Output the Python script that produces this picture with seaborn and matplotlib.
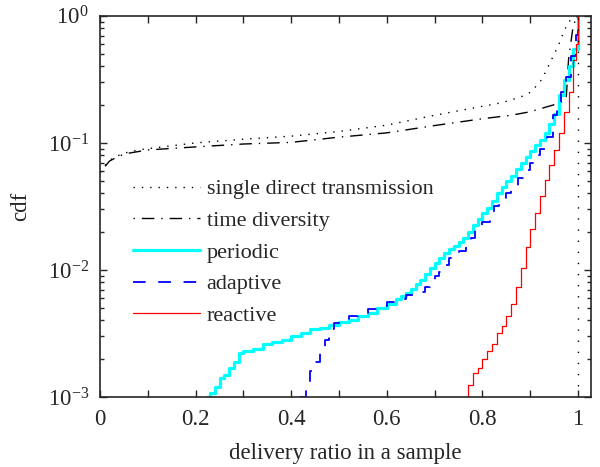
import numpy as np
import pandas as pd
import seaborn as sns
import matplotlib.pyplot as plt
from matplotlib.ticker import MultipleLocator, LogLocator, NullFormatter

# curves (x = delivery ratio, y = cdf)
sd_x = [0.0, 0.01, 0.02, 0.04, 0.06, 0.09, 0.13, 0.2, 0.3, 0.4, 0.5, 0.6, 0.7, 0.78, 0.84, 0.88,
        0.9, 0.92, 0.93, 0.95, 0.96, 0.97, 0.98, 0.99, 1.0]
sd_y = [0.059, 0.066, 0.073, 0.08, 0.085, 0.089, 0.093, 0.1, 0.107, 0.113, 0.123, 0.138, 0.165, 0.188,
        0.207, 0.23, 0.25, 0.3, 0.35, 0.5, 0.6, 0.75, 0.9, 0.95, 1.0]

td_x = [0.0, 0.01, 0.02, 0.04, 0.06, 0.1, 0.2, 0.3, 0.4, 0.5, 0.6, 0.7, 0.8, 0.86, 0.9, 0.93,
        0.96, 0.975, 0.98, 0.99, 1.0]
td_y = [0.058, 0.065, 0.072, 0.079, 0.083, 0.088, 0.093, 0.098, 0.101, 0.111, 0.12, 0.137, 0.155,
        0.165, 0.176, 0.19, 0.205, 0.22, 0.45, 0.85, 1.0]

pe_x = [0.224, 0.23, 0.24, 0.25, 0.26, 0.27, 0.28, 0.29, 0.30, 0.32, 0.34, 0.36, 0.38, 0.40, 0.42,
        0.44, 0.46, 0.48, 0.50, 0.52, 0.54, 0.56, 0.58, 0.60, 0.62, 0.63, 0.64, 0.65, 0.66, 0.67,
        0.68, 0.69, 0.70, 0.71, 0.72, 0.73, 0.74, 0.75, 0.76, 0.77, 0.78, 0.79, 0.80, 0.81, 0.82,
        0.83, 0.84, 0.85, 0.86, 0.87, 0.88, 0.89, 0.90, 0.91, 0.92, 0.93, 0.94, 0.95, 0.96, 0.97,
        0.98, 0.99, 1.0]
pe_y = [0.001, 0.00108, 0.0012, 0.0014, 0.0015, 0.0017, 0.0019, 0.0022, 0.0023, 0.0024, 0.0026,
        0.0027, 0.0028, 0.003, 0.0032, 0.0034, 0.0035, 0.0037, 0.0039, 0.004, 0.0043, 0.0046, 0.005,
        0.0054, 0.0059, 0.0062, 0.0066, 0.0071, 0.0077, 0.0083, 0.0093, 0.0104, 0.0114, 0.0125,
        0.0135, 0.0145, 0.0155, 0.0165, 0.018, 0.02, 0.0225, 0.025, 0.028, 0.031, 0.035, 0.04,
        0.045, 0.05, 0.055, 0.062, 0.07, 0.078, 0.087, 0.096, 0.106, 0.12, 0.14, 0.17, 0.24, 0.31,
        0.4, 0.55, 1.0]

ad_x = [0.418, 0.43, 0.44, 0.45, 0.46, 0.47, 0.48, 0.49, 0.50, 0.52, 0.54, 0.56, 0.58, 0.60, 0.62,
        0.64, 0.66, 0.68, 0.69, 0.70, 0.71, 0.72, 0.73, 0.74, 0.75, 0.765, 0.775, 0.785, 0.80,
        0.815, 0.825, 0.835, 0.85, 0.86, 0.875, 0.885, 0.90, 0.91, 0.92, 0.935, 0.948, 0.955,
        0.965, 0.975, 0.985, 0.995, 1.0]
ad_y = [0.001, 0.0012, 0.0016, 0.0019, 0.0022, 0.0028, 0.0034, 0.0038, 0.004, 0.0043, 0.0046,
        0.0049, 0.0052, 0.0056, 0.0059, 0.0063, 0.0067, 0.0074, 0.0082, 0.0089, 0.0096, 0.011,
        0.0124, 0.013, 0.014, 0.0152, 0.018, 0.021, 0.024, 0.027, 0.032, 0.036, 0.04, 0.045, 0.053,
        0.061, 0.07, 0.08, 0.09, 0.111, 0.166, 0.2, 0.25, 0.33, 0.48, 0.71, 1.0]

re_x = [0.76, 0.77, 0.78, 0.79, 0.80, 0.81, 0.82, 0.83, 0.84, 0.85, 0.86, 0.87, 0.88, 0.89, 0.90,
        0.91, 0.92, 0.93, 0.94, 0.95, 0.96, 0.97, 0.98, 0.99, 0.995, 1.0]
re_y = [0.001, 0.00124, 0.00155, 0.0017, 0.002, 0.0023, 0.0026, 0.0032, 0.0036, 0.0043, 0.0054,
        0.0074, 0.0104, 0.0152, 0.021, 0.028, 0.038, 0.051, 0.067, 0.088, 0.12, 0.175, 0.25, 0.45,
        0.6, 1.0]

labels = ['single direct transmission', 'time diversity', 'periodic', 'adaptive', 'reactive']

sns.set_style('ticks')
plt.rcParams['font.family'] = ['Liberation Serif', 'DejaVu Serif']
plt.rcParams['mathtext.fontset'] = 'stix'

fig = plt.figure(figsize=(6, 4.67), dpi=100)
ax = fig.add_axes([0.1667, 0.15, 0.8183, 0.816])

series = [
    (sd_x, sd_y, labels[0], 'default', dict(color='black', lw=1.0, dashes=(1, 5))),
    (td_x, td_y, labels[1], 'default', dict(color='black', lw=1.0, dashes=(1, 5, 9, 5))),
    (pe_x, pe_y, labels[2], 'steps-post', dict(color='#00ffff', lw=2.3)),
    (ad_x, ad_y, labels[3], 'steps-post', dict(color='#0000ff', lw=1.3, dashes=(7, 7))),
    (re_x, re_y, labels[4], 'steps-post', dict(color='#ff0000', lw=0.9)),
]
for xs, ys, name, ds, kw in series:
    df = pd.DataFrame({'x': xs, 'y': ys})
    sns.lineplot(data=df, x='x', y='y', ax=ax, label=name, estimator=None, sort=False,
                 drawstyle=ds, **kw)

# vertical dotted part of single direct transmission at x = 1
ax.axvline(1.0, color='black', lw=1.0, dashes=(1, 7))

ax.set_yscale('log')
ax.set_xlim(0, 1.027)
ax.set_ylim(1e-3, 1)
ax.xaxis.set_minor_locator(MultipleLocator(0.1))
ax.yaxis.set_major_locator(LogLocator(base=10, numticks=10))
ax.yaxis.set_minor_locator(LogLocator(base=10, subs=np.arange(2, 10), numticks=10))
ax.yaxis.set_minor_formatter(NullFormatter())
ax.set_xticks([0, 0.2, 0.4, 0.6, 0.8, 1])
ax.set_xticklabels(['0', '0.2', '0.4', '0.6', '0.8', '1'])
ax.tick_params(which='both', direction='in', top=True, right=True, labelsize=16.5, width=1)
ax.tick_params(which='major', length=5, pad=8)
ax.tick_params(axis='x', which='major', pad=9)
ax.tick_params(axis='x', which='minor', length=5)
ax.tick_params(axis='y', which='minor', length=3)
for s in ax.spines.values():
    s.set_linewidth(1.2)

ax.set_xlabel('delivery ratio in a sample', fontsize=16.5, labelpad=9)
ax.set_ylabel('cdf', fontsize=16.5, labelpad=12)

ax.legend(loc='upper left', bbox_to_anchor=(0.027, 0.625), frameon=False, fontsize=16,
          handlelength=3.0, handletextpad=0.3, labelspacing=0.5)

fig.savefig('out.png', dpi=100)
